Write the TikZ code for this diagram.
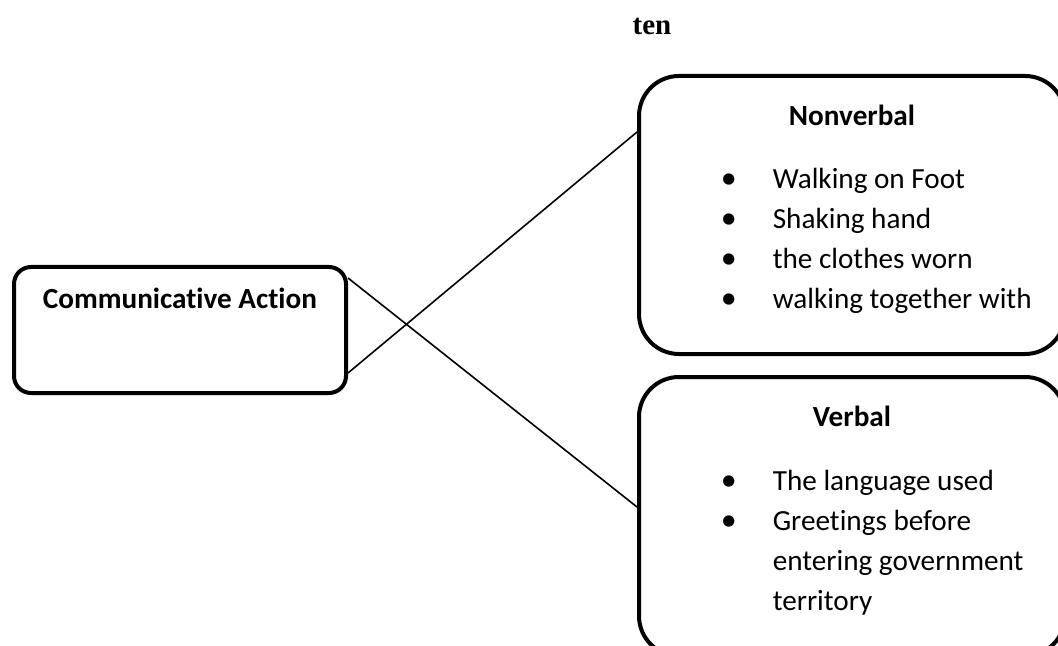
\documentclass[tikz,border=0pt]{standalone}
\usepackage{fontspec}
\setmainfont{Carlito}[Ligatures=NoCommon]
\newfontfamily\timesfont{Liberation Serif}
\usetikzlibrary{positioning}

\newcommand{\bul}{\makebox[44pt]{\fontsize{16pt}{16pt}\selectfont •}}

\begin{document}
\begin{tikzpicture}[x=0.5pt, y=-0.5pt, thick,
  box/.style={draw, line width=2pt, rounded corners=20pt, inner sep=0pt},
  head/.style={font=\fontsize{14.6pt}{17pt}\selectfont\bfseries, inner sep=0pt, anchor=base},
  list/.style={font=\fontsize{14.6pt}{20pt}\selectfont, inner sep=0pt, anchor=base west, align=left}]

\useasboundingbox (0,0) rectangle (1058,646);

\node[font=\timesfont\bfseries\fontsize{14.5pt}{17pt}\selectfont, inner sep=0pt, anchor=base] (ten) at (652,35) {ten};

\node[box, rounded corners=8.5pt, minimum width=166pt, minimum height=63pt] (act) at (180,330) {};
\node[box, minimum width=213pt, minimum height=139pt] (nv) at (852,215) {};
\node[box, minimum width=213pt, minimum height=139.5pt] (vb) at (852,516.5) {};

\node[head] (acttitle) at ([yshift=-21.5pt]act.north) {Communicative Action};
\node[head] (nvtitle) at ([yshift=-26pt]nv.north) {Nonverbal};
\node[head] (vbtitle) at ([yshift=-25.5pt]vb.north) {Verbal};

\node[list] (nvlist) at (684,189) {\begin{tabular}[t]{@{}l@{}l@{}}
  \bul & Walking on Foot\\
  \bul & Shaking hand\\
  \bul & the clothes worn\\
  \bul & walking together with
\end{tabular}};

\node[list] (vblist) at (684,490) {\begin{tabular}[t]{@{}l@{}l@{}}
  \bul & The language used\\
  \bul & Greetings before\\
       & entering government\\
       & territory
\end{tabular}};

\path ([yshift=26pt]act.east) edge ([yshift=4.75pt]vb.west)
      ([yshift=-21.5pt]act.east) edge ([yshift=41.5pt]nv.west);

\end{tikzpicture}
\end{document}
